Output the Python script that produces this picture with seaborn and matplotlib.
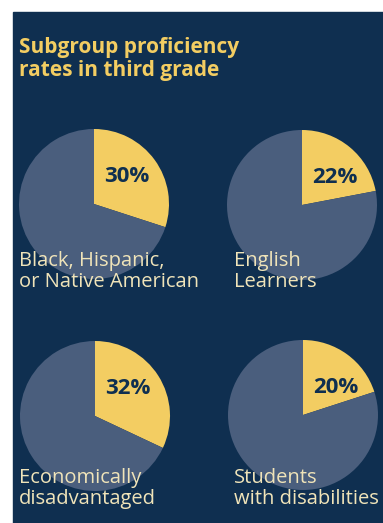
import seaborn as sns
import matplotlib.pyplot as plt
from matplotlib.patches import Rectangle

# data
groups = ["Black, Hispanic,\nor Native American", "English\nLearners",
          "Economically\ndisadvantaged", "Students\nwith disabilities"]
proficient = [30, 22, 32, 20]
title = "Subgroup proficiency\nrates in third grade"

navy = "#0F2F50"
slate = "#4A5E7D"
gold = "#F3CD62"
cream = "#F0E4B9"

sns.set_theme(style="white")
plt.rcParams["font.family"] = ["Open Sans", "DejaVu Sans"]

W, H = 383, 523
fig = plt.figure(figsize=(W / 100, H / 100), dpi=100)
fig.patch.set_facecolor("white")
fig.patches.append(Rectangle((13 / W, 0), 1 - 13 / W, 1 - 12 / H,
                             transform=fig.transFigure, color=navy, zorder=-5))

fig.text(19 / W, 1 - 37 / H, title, color=gold, fontsize=15, fontweight="bold",
         va="top", ha="left", linespacing=1.12)

# pie centres / radius in pixels, label anchor positions
centres = [(94, 204), (302, 205), (95, 416), (303, 415)]
label_pos = [(19, 251), (234, 251), (19, 468), (234, 468)]
radius = 75

for i, (name, val) in enumerate(zip(groups, proficient)):
    cx, cy = centres[i]
    ax = fig.add_axes([(cx - radius) / W, (H - cy - radius) / H,
                       2 * radius / W, 2 * radius / H])
    ax.pie([val, 100 - val], colors=[gold, slate], startangle=90,
           counterclock=False, radius=1,
           wedgeprops=dict(linewidth=0))
    ax.set_xlim(-1, 1)
    ax.set_ylim(-1, 1)
    ax.set_aspect("equal")
    ax.axis("off")
    ax.text(0.44, 0.37, f"{val}%", color=navy, fontsize=16, fontweight="bold",
            ha="center", va="center")
    lx, ly = label_pos[i]
    fig.text(lx / W, 1 - ly / H, name, color=cream,
             fontsize=14.5, ha="left", va="top", linespacing=1.05, zorder=5)

fig.savefig("out.png", dpi=100, facecolor=fig.get_facecolor())
